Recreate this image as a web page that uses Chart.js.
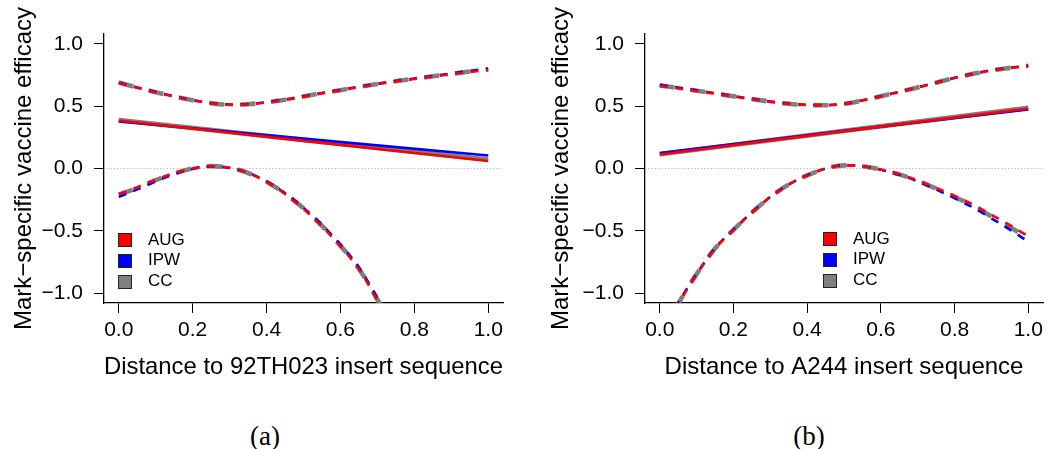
<!DOCTYPE html>
<html><head><meta charset="utf-8">
<script src="https://cdn.jsdelivr.net/npm/chart.js@4.4.1/dist/chart.umd.min.js"></script>
<style>
body{margin:0;background:#fff;width:1049px;height:449px;overflow:hidden;position:relative;font-family:"Liberation Sans",Arial,sans-serif}
canvas{position:absolute;top:0}
#ca{left:0}
#cb{left:524px}
.leg{position:absolute;font-size:17px;color:#000}
.leg div{height:20.8px;line-height:20.8px;position:relative;padding-left:30px;white-space:nowrap}
.leg span{position:absolute;left:0;top:3.5px;width:12px;height:12px;border:1px solid #222}
.cap{position:absolute;top:421px;line-height:30px;font-family:"Liberation Serif",serif;font-size:27px;transform:translateX(-50%);color:#000}
</style></head><body>
<canvas id="ca" width="524" height="400"></canvas>
<canvas id="cb" width="525" height="400"></canvas>
<div class="leg" id="la" style="left:118px;top:229.5px"></div>
<div class="leg" id="lb" style="left:823px;top:228.5px"></div>
<div class="cap" style="left:265px">(a)</div>
<div class="cap" style="left:809px">(b)</div>
<script>
// ---- data ----
const methods = ['AUG', 'IPW', 'CC'];
const xGrid = [0,0.05,0.1,0.15,0.2,0.25,0.3,0.35,0.4,0.45,0.5,0.55,0.6,0.65,0.7,0.75,0.8,0.85,0.9,0.95,1.0];
const xEst = [0, 0.5, 1];

// panel (a): distance to 92TH023 insert sequence
const aEstAUG = [0.386, 0.222, 0.060];
const aEstIPW = [0.377, 0.240, 0.104];
const aEstCC  = [0.390, 0.230, 0.071];
const aUpAUG = [0.686,0.648,0.611,0.577,0.547,0.523,0.511,0.515,0.530,0.550,0.576,0.603,0.627,0.653,0.677,0.699,0.718,0.738,0.757,0.775,0.791];
const aUpIPW = [0.690,0.651,0.614,0.580,0.550,0.526,0.514,0.518,0.533,0.554,0.580,0.607,0.631,0.657,0.681,0.703,0.723,0.743,0.763,0.783,0.802];
const aUpCC  = [0.690,0.650,0.612,0.578,0.548,0.524,0.512,0.516,0.531,0.552,0.578,0.605,0.629,0.655,0.679,0.701,0.720,0.740,0.760,0.779,0.796];
const aLoAUG = [-0.205,-0.150,-0.090,-0.037,0.001,0.019,0.006,-0.036,-0.108,-0.205,-0.325,-0.465,-0.625,-0.810,-1.060,-1.330,null,null,null,null,null];
const aLoIPW = [-0.228,-0.168,-0.103,-0.045,-0.003,0.017,0.005,-0.035,-0.104,-0.198,-0.315,-0.452,-0.610,-0.795,-1.040,-1.310,null,null,null,null,null];
const aLoCC  = [-0.212,-0.155,-0.094,-0.040,0.000,0.019,0.006,-0.036,-0.106,-0.202,-0.320,-0.460,-0.620,-0.805,-1.052,-1.320,null,null,null,null,null];

// panel (b): distance to A244 insert sequence
const bEstAUG = [0.112, 0.300, 0.482];
const bEstIPW = [0.124, 0.302, 0.474];
const bEstCC  = [0.115, 0.302, 0.487];
const bUpAUG = [0.662,0.643,0.622,0.600,0.578,0.556,0.535,0.519,0.509,0.507,0.518,0.546,0.579,0.614,0.650,0.688,0.726,0.759,0.787,0.807,0.824];
const bUpIPW = [0.672,0.650,0.628,0.605,0.582,0.559,0.538,0.521,0.511,0.509,0.520,0.548,0.581,0.616,0.652,0.690,0.728,0.761,0.789,0.809,0.826];
const bUpCC  = [0.667,0.647,0.625,0.602,0.580,0.558,0.537,0.520,0.510,0.508,0.519,0.547,0.580,0.615,0.651,0.689,0.727,0.760,0.788,0.808,0.825];
const bLoAUG = [-1.350,-1.090,-0.850,-0.645,-0.495,-0.355,-0.230,-0.130,-0.055,0.000,0.025,0.018,-0.008,-0.045,-0.095,-0.155,-0.220,-0.290,-0.372,-0.455,-0.545];
const bLoIPW = [-1.340,-1.080,-0.845,-0.640,-0.490,-0.352,-0.228,-0.128,-0.054,0.000,0.026,0.019,-0.010,-0.050,-0.103,-0.168,-0.238,-0.313,-0.400,-0.490,-0.588];
const bLoCC  = [-1.345,-1.085,-0.848,-0.643,-0.493,-0.354,-0.229,-0.129,-0.055,0.000,0.025,0.018,-0.009,-0.047,-0.099,-0.161,-0.228,-0.300,-0.384,-0.470,-0.562];

const xTickValues = [0, 0.2, 0.4, 0.6, 0.8, 1.0];
const xTickLabels = ['0.0', '0.2', '0.4', '0.6', '0.8', '1.0'];
const yTickValues = [-1, -0.5, 0, 0.5, 1];
const yTickLabels = ['\u22121.0', '\u22120.5', '0.0', '0.5', '1.0'];
const xRange = [-0.04, 1.04];
const yRange = [-1.08, 1.08];
const refLineY = 0;
const yTitle = 'Mark\u2212specific vaccine efficacy';
const xTitleA = 'Distance to 92TH023 insert sequence';
const xTitleB = 'Distance to A244 insert sequence';

// ---- styles ----
const colors = {AUG: '#FF0000', IPW: '#0000FF', CC: '#7F7F7F'};
const solidW = {AUG: 2.6, IPW: 2.6, CC: 4.6};
const dashW = {AUG: 2.6, IPW: 2.6, CC: 4.6};
const dashPat = {AUG: [8, 7.5], IPW: [8, 7.5], CC: [15, 16]};
const order = {AUG: 1, IPW: 2, CC: 3};
const FAM = '"Liberation Sans", Arial, sans-serif';

function pts(xs, ys) { return xs.map((x, i) => ({x: x, y: ys[i]})); }

function buildDatasets(est, up, lo) {
  const ds = [];
  methods.forEach(m => {
    ds.push({label: m, data: pts(xEst, est[m]), borderColor: colors[m], borderWidth: solidW[m], order: order[m], tension: 0});
    ds.push({label: m + ' upper', data: pts(xGrid, up[m]), borderColor: colors[m], borderWidth: dashW[m], borderDash: dashPat[m], order: order[m], cubicInterpolationMode: 'monotone'});
    ds.push({label: m + ' lower', data: pts(xGrid, lo[m]), borderColor: colors[m], borderWidth: dashW[m], borderDash: dashPat[m], order: order[m], cubicInterpolationMode: 'monotone'});
  });
  ds.push({label: 'zero', data: pts(xRange, [refLineY, refLineY]), borderColor: '#B4B4B4', borderWidth: 1, borderDash: [1.2, 2.1], order: 10});
  return ds;
}

function makeChart(id, datasets, xTitle, pad, yWidth, yTitlePad) {
  return new Chart(document.getElementById(id), {
    type: 'line',
    data: {datasets: datasets},
    options: {
      responsive: false, animation: false, devicePixelRatio: 1,
      layout: {padding: pad},
      plugins: {legend: {display: false}, tooltip: {enabled: false}},
      elements: {point: {radius: 0, hoverRadius: 0}, line: {fill: false, borderCapStyle: 'butt'}},
      scales: {
        x: {
          type: 'linear', min: xRange[0], max: xRange[1],
          afterBuildTicks: s => { s.ticks = xTickValues.map(v => ({value: v})); },
          afterFit: s => { s.height = 97; },
          ticks: {autoSkip: false, maxRotation: 0, padding: 5, color: '#000', font: {family: FAM, size: 21},
                  callback: (v, i) => xTickLabels[i]},
          grid: {drawOnChartArea: false, drawTicks: true, tickLength: 10, color: '#000', lineWidth: 1},
          border: {display: true, color: '#000', width: 1.3},
          title: {display: true, text: xTitle, color: '#000', font: {family: FAM, size: 24}, padding: {top: 0, bottom: 18}}
        },
        y: {
          type: 'linear', min: yRange[0], max: yRange[1],
          afterBuildTicks: s => { s.ticks = yTickValues.map(v => ({value: v})); },
          afterFit: s => { s.width = yWidth; },
          ticks: {autoSkip: false, padding: 11, color: '#000', font: {family: FAM, size: 21},
                  callback: (v, i) => yTickLabels[i]},
          grid: {drawOnChartArea: false, drawTicks: true, tickLength: 10, color: '#000', lineWidth: 1},
          border: {display: true, color: '#000', width: 1.3},
          title: {display: true, text: yTitle, color: '#000', font: {family: FAM, size: 24}, padding: {top: yTitlePad, bottom: 0}}
        }
      }
    }
  });
}

makeChart('ca', buildDatasets({AUG: aEstAUG, IPW: aEstIPW, CC: aEstCC}, {AUG: aUpAUG, IPW: aUpIPW, CC: aUpCC}, {AUG: aLoAUG, IPW: aLoIPW, CC: aLoCC}),
  xTitleA, {top: 34, right: 21, bottom: 0, left: 0}, 104, 10);
makeChart('cb', buildDatasets({AUG: bEstAUG, IPW: bEstIPW, CC: bEstCC}, {AUG: bUpAUG, IPW: bUpIPW, CC: bUpCC}, {AUG: bLoAUG, IPW: bLoIPW, CC: bLoCC}),
  xTitleB, {top: 34, right: 6, bottom: 0, left: 0}, 121, 23);

function legend(id) {
  const el = document.getElementById(id);
  methods.forEach(m => {
    const row = document.createElement('div');
    const sw = document.createElement('span');
    sw.style.background = colors[m];
    row.appendChild(sw);
    row.appendChild(document.createTextNode(m));
    el.appendChild(row);
  });
}
legend('la'); legend('lb');
</script>
</body></html>
